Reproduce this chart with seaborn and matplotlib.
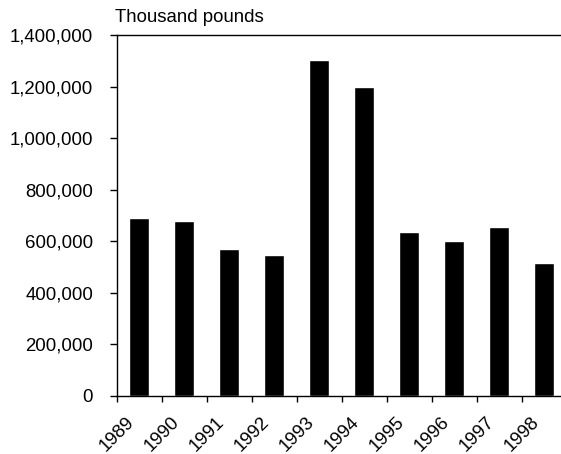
import matplotlib
matplotlib.use('Agg')
import matplotlib.pyplot as plt
import matplotlib.transforms as mtransforms
import seaborn as sns
import pandas as pd
from matplotlib.ticker import FuncFormatter

years = ['1989', '1990', '1991', '1992', '1993', '1994', '1995', '1996', '1997', '1998']
values = [690000, 680000, 572000, 545000, 1303000, 1200000, 636000, 600000, 657000, 515000]

data = pd.DataFrame({'Year': years, 'Pounds': values})

sns.set_style('white')
plt.rcParams['font.family'] = ['Liberation Sans', 'DejaVu Sans']
plt.rcParams['text.color'] = 'black'
plt.rcParams['xtick.color'] = 'black'
plt.rcParams['ytick.color'] = 'black'

fig = plt.figure(figsize=(5.61, 4.54), dpi=100)
ax = fig.add_axes([116.7 / 561, 58 / 454, 450 / 561, 361 / 454])

sns.barplot(x='Year', y='Pounds', data=data, color='black', width=0.44,
            saturation=1, ax=ax)

ax.set_xlim(-0.5, len(years) - 0.5)
ax.set_ylim(0, 1400000)
ax.set_yticks(range(0, 1400001, 200000))
ax.yaxis.set_major_formatter(FuncFormatter(lambda v, p: f'{int(v):,}'))

# year labels sit on the category boundaries
ax.set_xticks([i - 0.5 for i in range(len(years))])
ax.set_xticklabels(years, rotation=45, ha='center', va='top')
shift = mtransforms.ScaledTranslation(0.04, 0, fig.dpi_scale_trans)
for lbl in ax.get_xticklabels():
    lbl.set_transform(lbl.get_transform() + shift)

ax.set_xlabel('')
ax.set_ylabel('')
for side in ['left', 'bottom', 'top']:
    ax.spines[side].set_color('black')
    ax.spines[side].set_linewidth(1)
ax.spines['right'].set_visible(False)

ax.tick_params(axis='y', direction='out', length=5, width=1, colors='black',
               labelsize=13.4, pad=12, left=True)
ax.tick_params(axis='x', direction='out', length=4, width=1, colors='black',
               labelsize=13.4, pad=8.5, bottom=True)

fig.text(115 / 561, 1 - 22 / 454, 'Thousand pounds', fontsize=13.4,
         ha='left', va='baseline')

plt.savefig('out.png', dpi=100)
plt.close()
